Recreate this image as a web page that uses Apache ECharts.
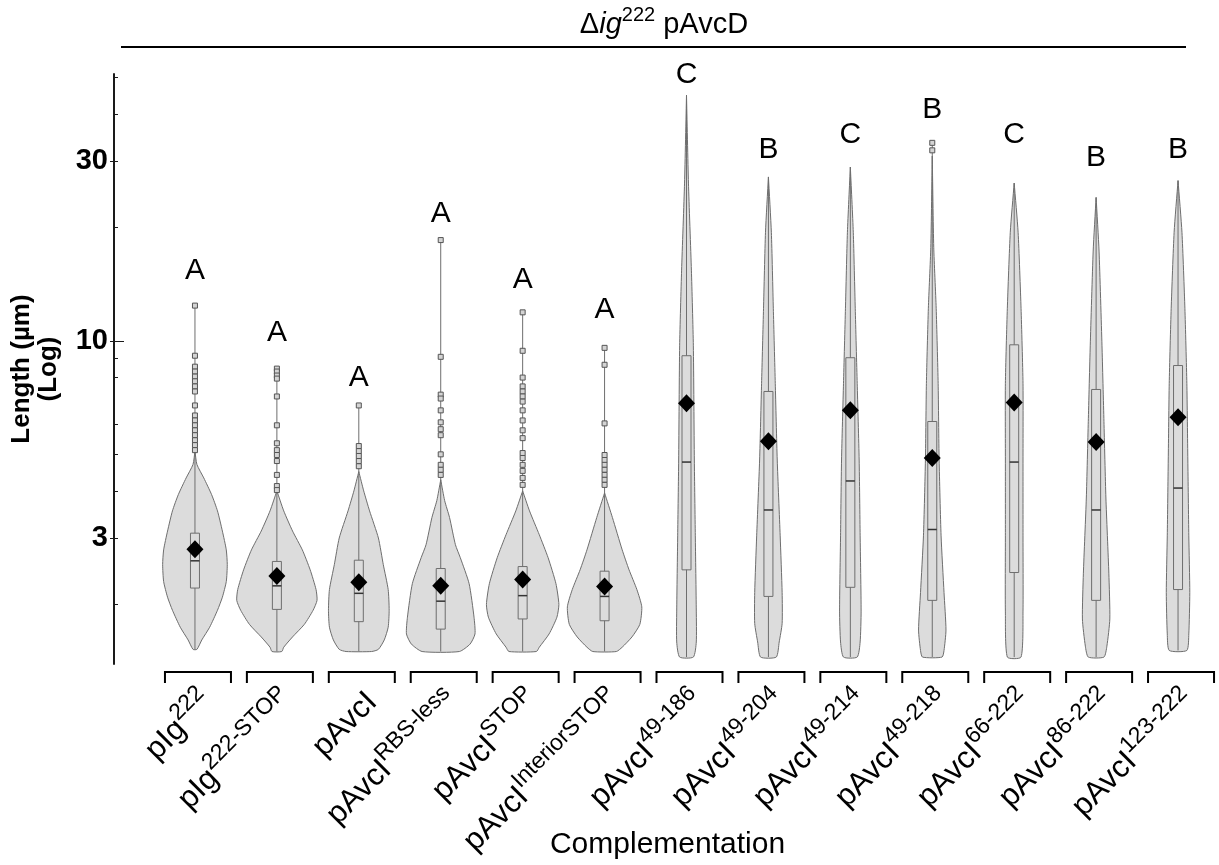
<!DOCTYPE html>
<html>
<head>
<meta charset="UTF-8">
<title>Length by complementation</title>
<script src="https://cdn.jsdelivr.net/npm/echarts@6/dist/echarts.min.js"></script>
<style>
    html, body { margin: 0; padding: 0; background: #fff; }
    #main { width: 1219px; height: 865px; }
</style>
</head>
<body>
<div id="main"></div>
<script type="text/javascript">
    // categories: plasmid name + superscript part
    var catBase = ['pIg', 'pIg', 'pAvcI', 'pAvcI', 'pAvcI', 'pAvcI', 'pAvcI', 'pAvcI', 'pAvcI', 'pAvcI', 'pAvcI', 'pAvcI', 'pAvcI'];
    var catSup = ['222', '222-STOP', '', 'RBS-less', 'STOP', 'InteriorSTOP', '49-186', '49-204', '49-214', '49-218', '66-222', '86-222', '123-222'];

    // significance letters and where they sit (µm)
    var letters = ['A', 'A', 'A', 'A', 'A', 'A', 'C', 'B', 'C', 'B', 'C', 'B', 'B'];
    var letterAt = [15.3, 10.5, 7.99, 21.7, 14.5, 12.1, 50.8, 32.1, 35.3, 40.9, 35.3, 30.5, 32.1];

    // summary statistics (µm)
    var lenMin = [1.52, 1.50, 1.50, 1.50, 1.50, 1.50, 1.45, 1.45, 1.45, 1.45, 1.45, 1.45, 1.51];
    var lenMax = [12.4, 8.44, 6.74, 18.5, 11.9, 9.58, 44.8, 27.2, 28.9, 33.5, 26.2, 24.0, 26.6];
    var q1 = [2.21, 1.94, 1.80, 1.72, 1.83, 1.81, 2.47, 2.10, 2.22, 2.05, 2.43, 2.05, 2.19];
    var med = [2.61, 2.24, 2.14, 2.04, 2.11, 2.10, 4.77, 3.56, 4.25, 3.16, 4.77, 3.56, 4.07];
    var q3 = [3.09, 2.60, 2.62, 2.49, 2.52, 2.45, 9.13, 7.34, 9.02, 6.11, 9.76, 7.43, 8.60];
    var meanLen = [2.80, 2.38, 2.29, 2.24, 2.33, 2.23, 6.83, 5.42, 6.54, 4.89, 6.86, 5.39, 6.27];

    // outliers (µm)
    var outPIg222 = [12.4, 9.13, 8.54, 8.29, 8.04, 7.81, 7.57, 7.34, 6.74, 6.34, 6.15, 5.97, 5.79, 5.62, 5.45, 5.29, 5.13];
    var outPIg222Stop = [8.44, 8.29, 8.09, 7.94, 7.12, 5.97, 5.35, 5.13, 4.98, 4.80, 4.41, 4.12, 4.02];
    var outPAvcI = [6.74, 5.26, 5.10, 4.95, 4.80, 4.65];
    var outRbsLess = [18.5, 9.07, 7.20, 7.03, 6.54, 6.08, 5.83, 5.62, 5.00, 4.69, 4.55, 4.41];
    var outStop = [11.9, 9.41, 7.99, 7.57, 7.34, 7.12, 6.90, 6.54, 6.15, 5.79, 5.52, 5.04, 4.89, 4.69, 4.52, 4.33, 4.15];
    var outInteriorStop = [9.58, 8.64, 6.04, 4.98, 4.83, 4.69, 4.55, 4.41, 4.28, 4.15];
    var out49218 = [33.5, 32.0];
    var outliers = [outPIg222, outPIg222Stop, outPAvcI, outRbsLess, outStop, outInteriorStop, [], [], [], out49218, [], [], []];

    // violin density profiles: [length µm, relative density], top first
    var kdePIg222 = [[5.1, 0], [4.7, 2], [4.33, 9], [3.91, 17], [3.54, 23], [3.13, 28], [2.79, 32], [2.55, 33], [2.3, 32], [2.09, 28], [1.93, 23], [1.74, 15], [1.61, 7], [1.52, 2]];
    var kdePIg222Stop = [[4.0, 0], [3.54, 7], [3.13, 16], [2.79, 26], [2.47, 34], [2.19, 40], [2.05, 41], [1.93, 37], [1.77, 28], [1.64, 16], [1.54, 7], [1.50, 5]];
    var kdePAvcI = [[4.5, 0], [4.0, 5], [3.54, 11], [3.0, 20], [2.55, 25], [2.19, 30], [1.93, 31], [1.74, 30], [1.61, 26], [1.52, 20], [1.50, 13]];
    var kdeRbsLess = [[4.28, 0], [3.77, 4], [3.40, 9], [2.88, 15], [2.66, 20], [2.27, 29], [1.85, 34], [1.67, 35], [1.57, 30], [1.50, 19]];
    var kdeStop = [[4.0, 0], [3.54, 7], [3.06, 17], [2.66, 26], [2.27, 34], [2.0, 37], [1.85, 35], [1.67, 27], [1.54, 17], [1.50, 14]];
    var kdeInteriorStop = [[3.95, 0], [3.40, 8], [2.79, 18], [2.47, 25], [2.19, 33], [1.97, 38], [1.77, 36], [1.64, 28], [1.54, 18], [1.50, 12]];
    var kde49186 = [[44.8, 0], [26.2, 2], [15.4, 5], [9.7, 7], [4.83, 8], [3.04, 9], [1.92, 10], [1.59, 10], [1.45, 7]];
    var kde49204 = [[27.2, 0], [19.4, 3], [12.2, 5], [7.7, 7], [4.83, 9], [3.04, 12], [2.15, 14], [1.78, 14], [1.59, 11], [1.45, 8]];
    var kde49214 = [[28.9, 0], [19.4, 3], [12.2, 5], [7.7, 7], [4.83, 9], [3.04, 10], [1.92, 11], [1.59, 10], [1.45, 7]];
    var kde49218 = [[30.9, 0], [17.7, 1.5], [12.2, 4], [7.7, 6], [4.83, 7], [3.04, 9], [2.15, 12], [1.71, 14], [1.51, 12], [1.45, 10]];
    var kde66222 = [[26.2, 0], [19.4, 4], [12.2, 7], [7.7, 9], [4.83, 9], [3.04, 9], [1.92, 9], [1.45, 7]];
    var kde86222 = [[24.0, 0], [17.3, 3], [9.7, 6], [6.11, 8], [3.83, 10], [2.42, 13], [1.83, 14], [1.55, 11], [1.45, 8]];
    var kde123222 = [[26.6, 0], [19.4, 4], [12.2, 7], [7.7, 9], [4.83, 10], [3.04, 11], [2.15, 12], [1.67, 11], [1.51, 9]];
    var kde = [kdePIg222, kdePIg222Stop, kdePAvcI, kdeRbsLess, kdeStop, kdeInteriorStop, kde49186, kde49204, kde49214, kde49218, kde66222, kde86222, kde123222];

    // y axis ticks
    var yTickMajor = [3, 10, 30];
    var yTickMinor = [2, 4, 5, 6, 8, 9, 20, 40, 50];
    var yMin = 1.39, yMax = 51;

    var FONT = '"Liberation Sans", Arial, Helvetica, sans-serif';
    var FILL = '#dcdcdc';
    var EDGE = '#6e6e6e';
    var AXIS_OFFSET = 40;
    var maxDens = 41;

    var catNames = catBase.map(function (b, i) { return b + catSup[i]; });
    var seriesData = catNames.map(function (c, i) { return [i, med[i]]; });

    function renderViolin(params, api) {
        var i = params.dataIndex;
        var cx = api.coord([i, med[i]])[0];
        var band = api.size([1, 0])[0];
        var k = band * 0.49 / maxDens;
        var yOf = function (v) { return api.coord([i, v])[1]; };
        var prof = kde[i];
        var right = prof.map(function (p) { return [cx + p[1] * k, yOf(p[0])]; });
        var left = prof.slice().reverse().map(function (p) { return [cx - p[1] * k, yOf(p[0])]; });
        var kids = [];
        kids.push({
            type: 'polygon',
            shape: { points: right.concat(left), smooth: 0.2 },
            style: { fill: FILL, stroke: EDGE, lineWidth: 1 }
        });
        kids.push({
            type: 'line',
            shape: { x1: cx, y1: yOf(lenMin[i]), x2: cx, y2: yOf(lenMax[i]) },
            style: { stroke: EDGE, lineWidth: 1 }
        });
        var yq3 = yOf(q3[i]), yq1 = yOf(q1[i]);
        kids.push({
            type: 'rect',
            shape: { x: cx - 4.5, y: yq3, width: 9, height: yq1 - yq3 },
            style: { fill: FILL, stroke: EDGE, lineWidth: 1 }
        });
        var ym = yOf(med[i]);
        kids.push({
            type: 'line',
            shape: { x1: cx - 4.5, y1: ym, x2: cx + 4.5, y2: ym },
            style: { stroke: '#333', lineWidth: 1.5 }
        });
        outliers[i].forEach(function (v) {
            var yo = yOf(v);
            kids.push({
                type: 'rect',
                shape: { x: cx - 2.5, y: yo - 2.5, width: 5, height: 5 },
                style: { fill: '#d4d4d4', stroke: '#555', lineWidth: 1 }
            });
        });
        var yMean = yOf(meanLen[i]);
        kids.push({
            type: 'polygon',
            shape: { points: [[cx, yMean - 9], [cx + 8.5, yMean], [cx, yMean + 9], [cx - 8.5, yMean]] },
            style: { fill: '#000' }
        });
        kids.push({
            type: 'text',
            x: cx, y: yOf(letterAt[i]),
            style: {
                text: letters[i], fill: '#000', fontSize: 30, fontFamily: FONT,
                align: 'center', verticalAlign: 'middle'
            }
        });
        return { type: 'group', children: kids };
    }

    function renderCategory(params, api) {
        var i = params.dataIndex;
        var cx = api.coord([i, yMin])[0];
        var base = params.coordSys.y + params.coordSys.height;
        var half = 33;
        var bx = cx + 3;
        var label = '{b|' + catBase[i] + '}' + (catSup[i] ? '{s|' + catSup[i] + '}' : '');
        return {
            type: 'group',
            children: [{
                type: 'polyline',
                shape: { points: [[bx - half, base + 19], [bx - half, base + 8], [bx + half, base + 8], [bx + half, base + 19]] },
                style: { stroke: '#000', lineWidth: 2, fill: 'none' }
            }, {
                type: 'text',
                x: cx + 11, y: base + 31,
                rotation: Math.PI / 4,
                style: {
                    text: label,
                    align: 'right', verticalAlign: 'middle', fill: '#000',
                    rich: {
                        b: { fontSize: 31, fontFamily: FONT, lineHeight: 38, verticalAlign: 'bottom', fill: '#000' },
                        s: { fontSize: 23, fontFamily: FONT, lineHeight: 23, verticalAlign: 'top', fill: '#000' }
                    }
                }
            }]
        };
    }

    var chart = echarts.init(document.getElementById('main'));
    chart.setOption({
        animation: false,
        backgroundColor: '#fff',
        textStyle: { fontFamily: FONT },
        graphic: [{
            type: 'text',
            x: 664, y: 22,
            style: {
                text: '{n|Δ}{i|ig}{s|222}{n| pAvcD}',
                align: 'center', verticalAlign: 'middle',
                rich: {
                    n: { fontSize: 29, fontFamily: FONT, lineHeight: 34, verticalAlign: 'bottom', fill: '#000' },
                    i: { fontSize: 29, fontFamily: FONT, fontStyle: 'italic', lineHeight: 34, verticalAlign: 'bottom', fill: '#000' },
                    s: { fontSize: 20, fontFamily: FONT, lineHeight: 20, verticalAlign: 'top', fill: '#000' }
                }
            }
        }, {
            type: 'line',
            shape: { x1: 121, y1: 47, x2: 1186, y2: 47 },
            style: { stroke: '#000', lineWidth: 2 }
        }],
        grid: { left: 153, width: 1077, top: 74, bottom: 198 },
        xAxis: {
            type: 'category',
            data: catNames,
            axisLine: { show: false },
            axisTick: { show: false },
            axisLabel: { show: false },
            splitLine: { show: false },
            name: 'Complementation',
            nameLocation: 'middle',
            nameGap: 166,
            nameTextStyle: { fontSize: 30, color: '#000', fontFamily: FONT, padding: [0, 38, 0, 0] }
        },
        yAxis: [{
            type: 'log',
            logBase: 10,
            min: yMin,
            max: yMax,
            position: 'left',
            offset: AXIS_OFFSET,
            axisLine: { show: true, lineStyle: { color: '#1a1a1a', width: 2 } },
            axisTick: { show: true, customValues: yTickMajor, length: 4, lineStyle: { color: '#1a1a1a', width: 1 } },
            axisLabel: {
                customValues: yTickMajor, margin: 6,
                fontSize: 29, fontWeight: 'bold', color: '#000', fontFamily: FONT,
                formatter: function (v) { return Math.round(v); }
            },
            splitLine: { show: false },
            name: 'Length (µm)\n(Log)',
            nameLocation: 'middle',
            nameGap: 52,
            nameTextStyle: { fontSize: 26, fontWeight: 'bold', lineHeight: 27, color: '#000', fontFamily: FONT }
        }, {
            type: 'log',
            logBase: 10,
            min: yMin,
            max: yMax,
            position: 'left',
            offset: AXIS_OFFSET,
            axisLine: { show: false },
            axisTick: { show: true, inside: true, customValues: yTickMinor.concat([3, 30]), length: 4, lineStyle: { color: '#1a1a1a', width: 1 } },
            axisLabel: { show: false },
            splitLine: { show: false }
        }, {
            type: 'log',
            logBase: 10,
            min: yMin,
            max: yMax,
            position: 'left',
            offset: AXIS_OFFSET,
            axisLine: { show: false },
            axisTick: { show: true, inside: true, customValues: [10], length: 10, lineStyle: { color: '#1a1a1a', width: 1 } },
            axisLabel: { show: false },
            splitLine: { show: false }
        }],
        series: [{
            name: 'violins',
            type: 'custom',
            clip: false,
            yAxisIndex: 0,
            encode: { x: 0, y: 1 },
            data: seriesData,
            renderItem: renderViolin
        }, {
            name: 'groups',
            type: 'custom',
            clip: false,
            yAxisIndex: 0,
            encode: { x: 0, y: 1 },
            data: seriesData,
            renderItem: renderCategory
        }]
    });
</script>
</body>
</html>
